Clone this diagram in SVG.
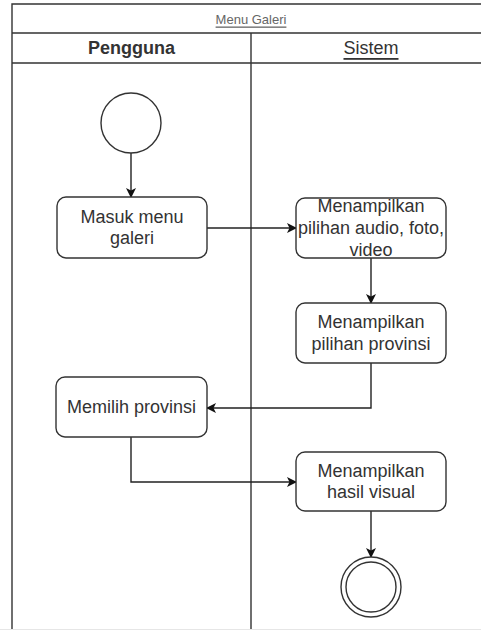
<svg xmlns="http://www.w3.org/2000/svg" width="481" height="630" viewBox="0 0 481 630">
<defs>
<style>
.frame{fill:none;stroke:#333;stroke-width:1.4}
.node{fill:#fff;stroke:#333;stroke-width:1.4}
.lbl{font-family:"Liberation Sans",Arial,sans-serif;font-size:18px;fill:#333;text-anchor:middle;dominant-baseline:central}
.edge{fill:none;stroke:#222;stroke-width:1.4}
</style>
<marker id="arr" viewBox="0 0 10 10" refX="9" refY="5" markerWidth="10" markerHeight="10" markerUnits="userSpaceOnUse" orient="auto">
<path d="M0,0 L10,5 L0,10 L2.5,5 z" fill="#111"/>
</marker>
</defs>
<rect width="481" height="630" fill="#fff"/>
<g id="pool">
<path class="frame" d="M12,630 L12,4 L481,4 M12,33 L481,33 M12,63 L481,63 M251,33 L251,630"/>
<line x1="0" y1="629.5" x2="481" y2="629.5" stroke="#e6e6e6" stroke-width="1"/>
<text x="251" y="19" font-family="'Liberation Sans',Arial,sans-serif" font-size="13" fill="#666" text-anchor="middle" dominant-baseline="central" text-decoration="underline">Menu Galeri</text>
</g>
<g id="lane-pengguna">
<text class="lbl" x="131.5" y="48" font-weight="bold">Pengguna</text>
</g>
<g id="lane-sistem">
<text class="lbl" x="371" y="48" text-decoration="underline">Sistem</text>
</g>
<g id="edges">
<path class="edge" d="M131,153 L131,197" marker-end="url(#arr)"/>
<path class="edge" d="M207,228 L296,228" marker-end="url(#arr)"/>
<path class="edge" d="M371,258 L371,303" marker-end="url(#arr)"/>
<path class="edge" d="M371,363 L371,408 L207,408" marker-end="url(#arr)"/>
<path class="edge" d="M131,437 L131,482 L296,482" marker-end="url(#arr)"/>
<path class="edge" d="M371,511 L371,557" marker-end="url(#arr)"/>
</g>
<g id="start">
<circle class="node" cx="131" cy="123" r="30"/>
</g>
<g id="masuk-menu-galeri">
<rect class="node" x="57" y="197" width="150" height="61" rx="9"/>
<text class="lbl" x="132" y="216.7">Masuk menu</text>
<text class="lbl" x="132" y="238.3">galeri</text>
</g>
<g id="menampilkan-pilihan">
<rect class="node" x="296" y="198" width="150" height="60" rx="9"/>
<text class="lbl" x="371" y="206.4">Menampilkan</text>
<text class="lbl" x="371" y="228">pilihan audio, foto,</text>
<text class="lbl" x="371" y="249.6">video</text>
</g>
<g id="menampilkan-provinsi">
<rect class="node" x="296" y="303" width="150" height="60" rx="9"/>
<text class="lbl" x="371" y="322.2">Menampilkan</text>
<text class="lbl" x="371" y="343.8">pilihan provinsi</text>
</g>
<g id="memilih-provinsi">
<rect class="node" x="56" y="377" width="151" height="60" rx="9"/>
<text class="lbl" x="131.5" y="407">Memilih provinsi</text>
</g>
<g id="menampilkan-hasil">
<rect class="node" x="296" y="452" width="150" height="59" rx="9"/>
<text class="lbl" x="371" y="470.7">Menampilkan</text>
<text class="lbl" x="371" y="492.3">hasil visual</text>
</g>
<g id="end">
<circle class="node" cx="371" cy="587" r="30"/>
<circle class="node" cx="371" cy="587" r="25"/>
</g>
</svg>
